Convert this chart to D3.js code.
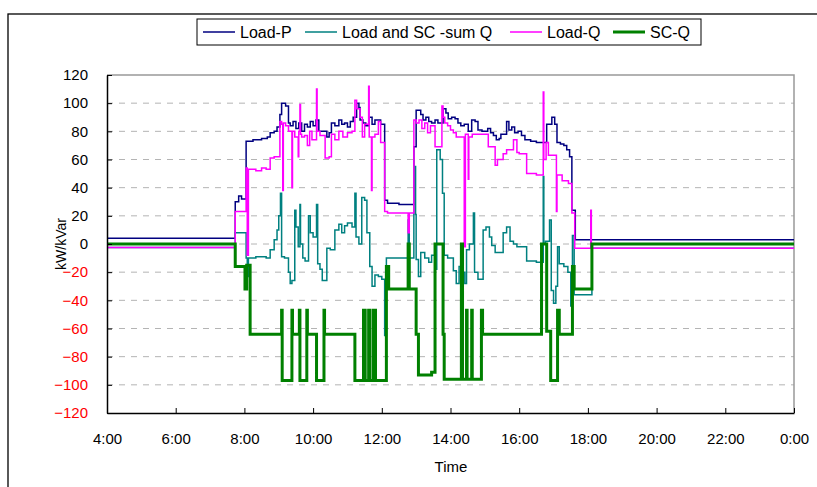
<!DOCTYPE html>
<html>
<head>
<meta charset="utf-8">
<script src="https://cdn.jsdelivr.net/npm/d3@7"></script>
<style>
  body { margin: 0; background: #fff; }
  svg { display: block; font-family: "Liberation Sans", Arial, sans-serif; }
</style>
</head>
<body>
<svg id="chart" width="817" height="487"></svg>
<script>
// values, [time, value]
const loadP = [["4:00",4],["7:44",30],["7:50",34],["7:55",32],["8:03",73],["8:15",74],["8:30",75],["8:40",76],["8:45",79],["8:52",80],["8:57",83],["9:02",92],["9:05",100],["9:12",98],["9:17",86],["9:20",84],["9:25",87],["9:30",82],["9:35",86],["9:40",80],["9:45",85],["9:50",83],["9:55",87],["10:00",84],["10:05",88],["10:10",80],["10:24",76],["10:28",79],["10:32",86],["10:38",84],["10:45",88],["10:50",85],["10:55",86],["11:00",83],["11:05",87],["11:10",90],["11:16",100],["11:20",97],["11:22",88],["11:27",86],["11:32",84],["11:38",90],["11:43",85],["11:48",88],["11:58",85],["12:05",31],["12:10",29],["12:30",28],["12:56",69],["13:00",95],["13:08",92],["13:12",88],["13:17",90],["13:22",87],["13:27",86],["13:33",88],["13:38",86],["13:47",96],["13:52",93],["13:56",89],["14:02",90],["14:08",89],["14:13",86],["14:18",84],["14:24",85],["14:31",80],["14:37",88],["14:43",87],["14:48",81],["14:55",80],["15:05",82],["15:10",79],["15:15",77],["15:20",74],["15:25",75],["15:28",78],["15:38",87],["15:42",81],["15:47",83],["15:52",79],["15:58",80],["16:04",77],["16:10",74],["16:20",73],["16:30",72],["16:48",85],["16:57",90],["17:02",85],["17:06",72],["17:12",71],["17:18",70],["17:23",67],["17:28",62],["17:32",24],["17:38",3],["24:00",3]];

const sumQ = [["4:00",-2.5],["7:44",8],["8:03",-10],["8:05",-23],["8:07",-10],["8:20",-9],["8:38",-10],["8:45",-4],["8:52",3],["8:57",10],["9:00",20],["9:03",36],["9:05",-9],["9:10",-10],["9:17",-20],["9:20",-28],["9:23",-26],["9:28",24],["9:30",12],["9:34",-2],["9:37",28],["9:38",0],["9:42",-10],["9:46",-12],["9:52",20],["9:55",8],["10:00",5],["10:06",28],["10:08",-14],["10:12",-18],["10:16",-26],["10:24",-3],["10:30",-4],["10:38",10],["10:45",14],["10:50",8],["10:55",13],["11:00",15],["11:08",12],["11:13",36],["11:15",5],["11:20",0],["11:25",33],["11:30",31],["11:34",8],["11:39",-16],["11:43",-30],["11:48",-22],["11:54",-23],["12:00",-25],["12:05",-65],["12:08",-10],["12:46",17],["12:48",-10],["12:56",55],["12:59",21],["13:00",-11],["13:04",-23],["13:08",-6],["13:15",-10],["13:22",-13],["13:27",-8],["13:33",-18],["13:36",67],["13:42",60],["13:46",36],["13:49",-8],["13:55",-10],["14:05",-19],["14:10",-28],["14:15",-16],["14:19",-20],["14:25",-28],["14:28",-4],["14:33",0],["14:40",22],["14:42",-20],["14:48",-25],["14:57",10],["15:02",12],["15:08",5],["15:12",-1],["15:18",-6],["15:32",8],["15:38",12],["15:44",2],["15:50",0],["15:56",-2],["16:13",-12],["16:30",-13],["16:42",48],["16:43",0],["16:46",2],["16:53",17],["16:56",-33],["17:00",-42],["17:04",-30],["17:07",-2],["17:10",-14],["17:18",-16],["17:25",-20],["17:30",-44],["17:33",6],["17:36",-36],["18:07",-3],["24:00",-3]];

const loadQ = [["4:00",-2.5],["7:44",23],["8:03",54],["8:05",-8],["8:07",53],["8:20",52],["8:30",54],["8:38",53],["8:45",61],["8:52",62],["9:02",87],["9:05",85],["9:07",38],["9:08",86],["9:12",84],["9:17",80],["9:23",40],["9:24",80],["9:28",76],["9:34",62],["9:35",80],["9:37",99],["9:38",78],["9:40",76],["9:45",77],["9:50",70],["9:54",80],["9:58",74],["10:06",110],["10:07",80],["10:12",77],["10:21",61],["10:28",62],["10:32",78],["10:38",74],["10:45",80],["10:52",76],["11:00",79],["11:08",80],["11:13",102],["11:16",96],["11:22",90],["11:26",76],["11:30",85],["11:37",112],["11:38",76],["11:42",38],["11:43",76],["11:48",78],["11:54",87],["11:58",72],["12:05",23],["12:10",22],["12:46",8],["12:48",22],["12:56",88],["13:00",86],["13:05",88],["13:10",82],["13:15",86],["13:20",79],["13:25",84],["13:33",69],["13:45",98],["13:47",90],["13:50",86],["13:55",84],["14:00",81],["14:05",79],["14:10",76],["14:24",-2],["14:26",78],["14:31",46],["14:32",76],["14:38",78],["15:06",69],["15:18",56],["15:22",60],["15:32",64],["15:38",67],["15:50",74],["15:56",65],["16:00",64],["16:13",50],["16:30",49],["16:42",108],["16:43",60],["16:47",72],["16:51",63],["17:05",23],["17:06",49],["17:15",45],["17:26",43],["17:32",22],["17:37",-3],["18:05",24],["18:06",-3],["24:00",-3]];

const scQ = [["4:00",0],["7:44",-16],["8:01",-32],["8:04",-15],["8:10",-64],["9:05",-47],["9:06",-97],["9:23",-47],["9:24",-64],["9:36",-47],["9:37",-97],["9:49",-47],["9:50",-64],["10:06",-97],["10:19",-47],["10:20",-64],["11:13",-97],["11:28",-47],["11:31",-97],["11:37",-47],["11:39",-97],["11:45",-47],["11:49",-97],["12:08",-16],["12:12",-32],["12:46",0],["12:48",-32],["13:00",-64],["13:04",-93],["13:27",-91],["13:33",0],["13:47",-64],["13:49",-96],["14:19",0],["14:21",-96],["14:28",-47],["14:29",-96],["14:37",-47],["14:38",-96],["14:54",-47],["14:56",-64],["16:39",0],["16:48",-62],["16:55",-97],["17:07",-47],["17:10",-64],["17:33",-16],["17:36",-32],["18:07",0],["24:00",0]];

const seriesNames = ["Load-P", "Load and SC -sum Q", "Load-Q", "SC-Q"];
const seriesColors = ["#000080", "#008080", "#ff00ff", "#008000"];
const seriesWidths = [1.5, 1.5, 1.5, 3];
const yTicks = [-120, -100, -80, -60, -40, -20, 0, 20, 40, 60, 80, 100, 120];

const svg = d3.select("#chart");
const margin = { left: 107, top: 75, right: 794, bottom: 413 };

function parseTime(s) {
  const [h, m] = s.split(":").map(Number);
  return new Date(2000, 0, 1, h, m);
}

const x = d3.scaleTime()
  .domain([parseTime("4:00"), parseTime("24:00")])
  .range([margin.left, margin.right]);
const y = d3.scaleLinear().domain([-120, 120]).range([margin.bottom, margin.top]);

// outer frame
svg.append("rect")
  .attr("x", 8).attr("y", 14)
  .attr("width", 830).attr("height", 500)
  .attr("fill", "none").attr("stroke", "#000").attr("stroke-width", 1.3);

// gridlines
svg.append("g")
  .selectAll("line")
  .data(yTicks.filter(d => d > -120 && d < 120))
  .enter()
  .append("line")
  .attr("x1", margin.left).attr("x2", margin.right)
  .attr("y1", d => y(d)).attr("y2", d => y(d))
  .attr("stroke", "#b4b4b4")
  .attr("stroke-dasharray", "6,6");

// plot area border top / right
svg.append("path")
  .attr("d", `M${margin.left},${margin.top}H${margin.right}V${margin.bottom}`)
  .attr("fill", "none").attr("stroke", "#999").attr("stroke-width", 1.5);

// lines
const line = d3.line()
  .x(d => x(parseTime(d[0])))
  .y(d => y(d[1]))
  .curve(d3.curveStepAfter);

[loadP, sumQ, loadQ, scQ].forEach((data, i) => {
  svg.append("path")
    .datum(data)
    .attr("d", line)
    .attr("fill", "none")
    .attr("stroke", seriesColors[i])
    .attr("stroke-width", seriesWidths[i]);
});

// axes
const xAxis = svg.append("g")
  .attr("transform", `translate(0,${margin.bottom})`)
  .call(d3.axisBottom(x)
    .ticks(d3.timeHour.every(2))
    .tickFormat(d3.timeFormat("%-H:%M"))
    .tickSizeInner(-5).tickSizeOuter(0).tickPadding(20));

const yAxis = svg.append("g")
  .attr("transform", `translate(${margin.left},0)`)
  .call(d3.axisLeft(y)
    .tickValues(yTicks)
    .tickSizeInner(-5).tickSizeOuter(0).tickPadding(19));

[xAxis, yAxis].forEach(g => {
  g.select(".domain").attr("stroke", "#000").attr("stroke-width", 1.5);
  g.selectAll(".tick line").attr("stroke", "#000");
  g.selectAll("text").attr("font-size", 15).attr("font-family", "Liberation Sans, Arial, sans-serif").attr("fill", "#000");
});
yAxis.selectAll("text").attr("fill", d => d < 0 ? "#ff0000" : "#000");

// axis titles
svg.append("text")
  .attr("x", 451).attr("y", 472)
  .attr("text-anchor", "middle")
  .attr("font-size", 15)
  .text("Time");

svg.append("text")
  .attr("transform", "translate(66,244) rotate(-90)")
  .attr("text-anchor", "middle")
  .attr("font-size", 14)
  .text("kW/kVar");

// legend
const legend = svg.append("g");
legend.append("rect")
  .attr("x", 197).attr("y", 19)
  .attr("width", 504).attr("height", 26)
  .attr("fill", "#fff").attr("stroke", "#000");

const legendX = [203, 305, 510, 613];
seriesNames.forEach((name, i) => {
  legend.append("line")
    .attr("x1", legendX[i]).attr("x2", legendX[i] + 32)
    .attr("y1", 32).attr("y2", 32)
    .attr("stroke", seriesColors[i])
    .attr("stroke-width", seriesWidths[i]);
  legend.append("text")
    .attr("x", legendX[i] + 37).attr("y", 38)
    .attr("font-size", 16)
    .text(name);
});
</script>
</body>
</html>
